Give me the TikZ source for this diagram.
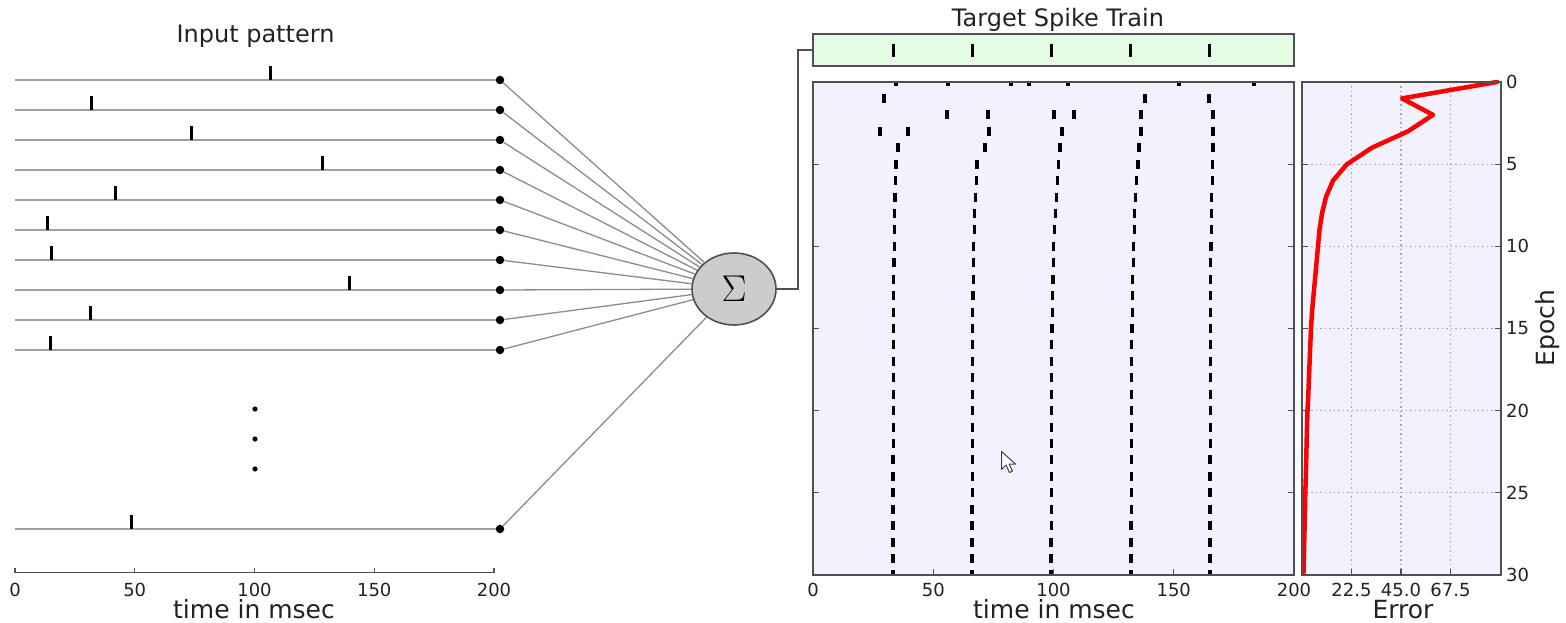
\documentclass[tikz,border=0pt]{standalone}
\usepackage{fontspec}
\setmainfont{DejaVu Sans}
\usetikzlibrary{shapes.geometric}
\definecolor{lav}{HTML}{F2F2FE}
\definecolor{lgreen}{HTML}{E4FBE4}
\definecolor{axgray}{HTML}{505050}
\definecolor{inlgray}{HTML}{A0A0A0}
\definecolor{conngray}{HTML}{8C8C8C}
\definecolor{txt}{HTML}{222222}
\definecolor{gridgray}{HTML}{A8A8A8}
\begin{document}
\begin{tikzpicture}[x=1pt,y=-1pt,
  inl/.style={draw=inlgray,line width=1.6pt},
  conn/.style={draw=conngray,line width=1.3pt},
  outw/.style={draw=axgray,line width=1.6pt},
  spk/.style={draw=black,line width=3pt},
  rmark/.style={draw=black,line width=3.2pt},
  dotn/.style={circle,fill=black,minimum size=8.5pt,inner sep=0pt},
  sigma/.style={ellipse,draw=axgray,line width=1.6pt,fill=black!20,minimum width=84pt,minimum height=72pt,inner sep=0pt},
  axbox/.style={draw=axgray,line width=2pt},
  tickl/.style={draw=axgray,line width=1.2pt},
  gridl/.style={draw=gridgray,line width=1.1pt,dash pattern=on 1.5pt off 3pt},
  errline/.style={draw=red,line width=4.5pt,line join=round,line cap=round},
  ticklab/.style={font=\fontsize{18}{22}\selectfont,text=txt,inner sep=0pt},
  axlab/.style={font=\fontsize{25}{30}\selectfont,text=txt,inner sep=0pt},
  titlab/.style={font=\fontsize{24}{29}\selectfont,text=txt,inner sep=0pt}
]
\useasboundingbox (0,0) rectangle (1566,623);

% ---------------- Input pattern ----------------
\node[titlab] (tin) at (255.5,36) {Input pattern};
\foreach \i/\y/\s in {1/80/270,2/110/91,3/140/191,4/170/322,5/200/115,6/230/47,7/260/51,8/290/349,9/320/90,10/350/50,11/529/131}{
  \node[dotn] (d\i) at (500,\y) {};
  \draw[inl] (15,\y) -- (d\i);
  \draw[spk] (\s,\y-14) -- (\s,\y);
}
\fill[black] (255,409) circle (2.6pt) (255,439) circle (2.6pt) (255,469) circle (2.6pt);
% axis
\draw[tickl] (15,572.5) -- (494,572.5);
\foreach \t/\lab in {0/0,50/50,100/100,150/150,200/200}{
  \pgfmathsetmacro\xx{15+2.395*\t}
  \draw[tickl] (\xx,572.5) -- (\xx,567.5);
  \node[ticklab] at (\xx,590) {\lab};
}
\node[axlab] (xin) at (254,609) {time in msec};

% ---------------- Sigma ----------------
\node[sigma] (sig) at (734,289) {\scalebox{1.8}{\fontsize{20}{24}\selectfont$\Sigma$}};
\foreach \i in {1,...,11}{ \draw[conn] (d\i) -- (sig); }

% ---------------- Target spike train ----------------
\node[titlab] (ttg) at (1058,20) {Target Spike Train};
\node[draw=axgray,line width=1.6pt,fill=lgreen,minimum width=481pt,minimum height=32pt,inner sep=0pt] (target) at (1053.5,50) {};
\foreach \s in {893,972,1051,1130,1209}{ \draw[spk] (\s,44) -- (\s,57.5); }
\draw[outw] (sig.east) -- ++(21,0) |- (target.west);

% ---------------- Raster plot ----------------
\fill[lav] (813,82) rectangle (1294,575);
\begin{scope}
\clip (813,82) rectangle (1294,575);
\foreach \e/\xs in {0/{896,948,1011,1029,1068,1179,1254},1/{884,1145,1209},2/{947,988,1054,1074,1141,1213},3/{880,908,989,1062,1141,1213},4/{898,985,1060,1139,1213}}{
  \pgfmathsetmacro\yy{82+16.433*\e}
  \foreach \xx in \xs { \draw[rmark] (\xx,\yy-4.5) -- (\xx,\yy+4.5); }
}
\foreach \e in {5,...,30}{
  \pgfmathsetmacro\yy{82+16.433*\e}
  \foreach \f/\s in {893/896,972/977,1051/1058.7,1131/1138,1210/1212.7}{
    \pgfmathsetmacro\xx{\f+(\s-\f)*exp(-(\e-5)/5)}
    \draw[rmark] (\xx,\yy-4.5) -- (\xx,\yy+4.5);
  }
}
\end{scope}
\foreach \e in {5,10,15,20,25}{
  \pgfmathsetmacro\yy{82+16.433*\e}
  \draw[tickl] (813,\yy) -- (819,\yy);
  \draw[tickl] (1294,\yy) -- (1288,\yy);
}
\foreach \t in {50,100,150}{
  \pgfmathsetmacro\xx{813+2.405*\t}
  \draw[tickl] (\xx,575) -- (\xx,569);
}
\draw[axbox] (813,82) rectangle (1294,575);
\foreach \t in {0,50,100,150,200}{
  \pgfmathsetmacro\xx{813+2.405*\t}
  \node[ticklab] at (\xx,590) {\t};
}
\node[axlab] (xout) at (1054,609) {time in msec};
% cursor
\draw[fill=white,draw=black!75,line width=1pt,line join=round] (1001.5,451.5) -- ++(0,18) -- ++(4.5,-4.5) -- ++(3.5,7.5) -- ++(3,-1.5) -- ++(-3.5,-7) -- ++(6.5,0) -- cycle;

% ---------------- Error plot ----------------
\fill[lav] (1302,82) rectangle (1500.5,575);
\foreach \g in {1351.5,1401,1450.5}{ \draw[gridl] (\g,82) -- (\g,575); }
\foreach \e in {5,10,15,20,25}{
  \pgfmathsetmacro\yy{82+16.433*\e}
  \draw[gridl] (1302,\yy) -- (1500.5,\yy);
  \draw[tickl] (1500.5,\yy) -- (1494.5,\yy);
  \draw[tickl] (1302,\yy) -- (1308,\yy);
}
\foreach \g in {1351.5,1401,1450.5}{ \draw[tickl] (\g,575) -- (\g,569); }
\begin{scope}
\clip (1302,70) rectangle (1510,575);
\draw[errline] plot coordinates {
 (1497,82) (1402,98.4) (1433,114.9) (1408,131.3) (1372,147.7) (1347,164.2)
 (1333,180.6) (1326,197) (1322,213.5) (1319.5,229.9) (1318,246.3)
 (1316.5,262.8) (1315,279.2) (1313.5,295.6) (1312,312.1) (1311,328.5)
 (1310.3,344.9) (1309.6,361.4) (1309,377.8) (1308.3,394.2) (1307.5,410.7)
 (1307,427.1) (1306.6,443.5) (1306.2,460) (1305.8,476.4) (1305.3,492.8)
 (1305,509.3) (1304.6,525.7) (1304.2,542.1) (1303.8,558.6) (1303.4,575)};
\end{scope}
\draw[axbox] (1302,82) rectangle (1500.5,575);
\node[ticklab] at (1351.5,590) {22.5};
\node[ticklab] at (1401,590) {45.0};
\node[ticklab] at (1450.5,590) {67.5};
\node[axlab] (xerr) at (1403,610) {Error};
\foreach \e in {0,5,10,15,20,25,30}{
  \pgfmathsetmacro\yy{82+16.433*\e}
  \node[ticklab,anchor=west] at (1506,\yy) {\e};
}
\node[axlab,rotate=90] (ylab) at (1548,328) {Epoch};
\end{tikzpicture}
\end{document}
